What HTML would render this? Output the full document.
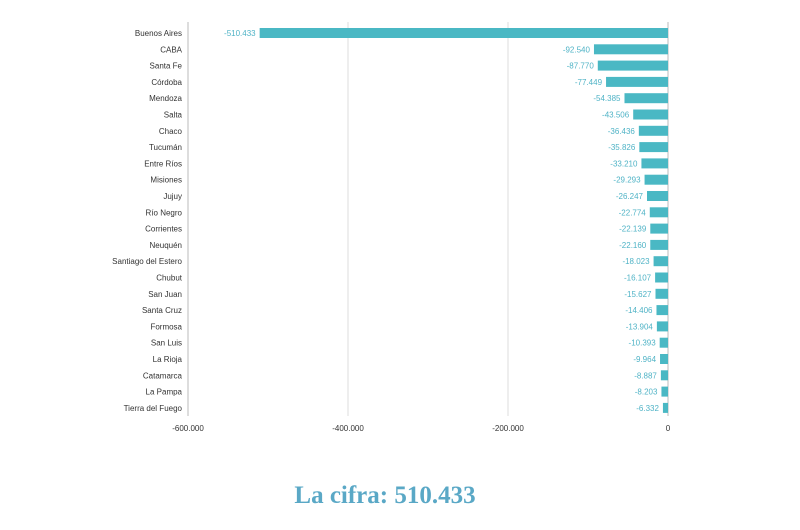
<!DOCTYPE html>
<html><head><meta charset="utf-8"><style>
body{margin:0;background:#fff;width:800px;height:530px;overflow:hidden;font-family:"Liberation Sans",sans-serif}
#t{position:absolute;left:0;width:770px;top:482px;text-align:center;font-family:"Liberation Serif",serif;font-weight:bold;font-size:25px;color:#5aa8c6}
</style></head><body>
<svg id="c" width="800" height="470" style="position:absolute;left:0;top:0"></svg>
<div id="t">La cifra: 510.433</div>
<script>
const categories=["Buenos Aires","CABA","Santa Fe","Córdoba","Mendoza","Salta","Chaco","Tucumán","Entre Ríos","Misiones","Jujuy","Río Negro","Corrientes","Neuquén","Santiago del Estero","Chubut","San Juan","Santa Cruz","Formosa","San Luis","La Rioja","Catamarca","La Pampa","Tierra del Fuego"];
const values=[-510433,-92540,-87770,-77449,-54385,-43506,-36436,-35826,-33210,-29293,-26247,-22774,-22139,-22160,-18023,-16107,-15627,-14406,-13904,-10393,-9964,-8887,-8203,-6332];
const ticks=[-600000,-400000,-200000,0];
const tickLabels=["-600.000","-400.000","-200.000","0"];
const NS="http://www.w3.org/2000/svg",svg=document.getElementById('c');
const x=v=>668+(v/600000)*480;
const y0=33,step=16.3,y=i=>y0+i*step;
function mk(t,a){const e=document.createElementNS(NS,t);for(const k in a)e.setAttribute(k,a[k]);svg.appendChild(e);return e;}
const fmt=v=>"-"+Math.abs(v).toLocaleString('de-DE');
ticks.forEach((t,i)=>{
 const g=mk('line',{x1:x(t),x2:x(t),y1:22,y2:416,stroke:i==0||t==0?'#bbb':'#ddd','stroke-width':1});
 
 const l=mk('text',{x:x(t),y:431,'text-anchor':'middle','font-size':8,fill:'#333'});l.textContent=tickLabels[i];
 
});
categories.forEach((c,i)=>{
 const cy=y(i);
 const l=mk('text',{x:182,y:cy+3,'text-anchor':'end','font-size':8,fill:'#333'});l.textContent=c;
 
 const b=mk('rect',{x:x(values[i]),y:cy-5,width:668-x(values[i]),height:10,fill:'#4ab8c4'});
 
 const v=mk('text',{x:x(values[i])-4,y:cy+3,'text-anchor':'end','font-size':8,fill:'#4fb3c6'});v.textContent=fmt(values[i]);
 
});
</script>
</body></html>
